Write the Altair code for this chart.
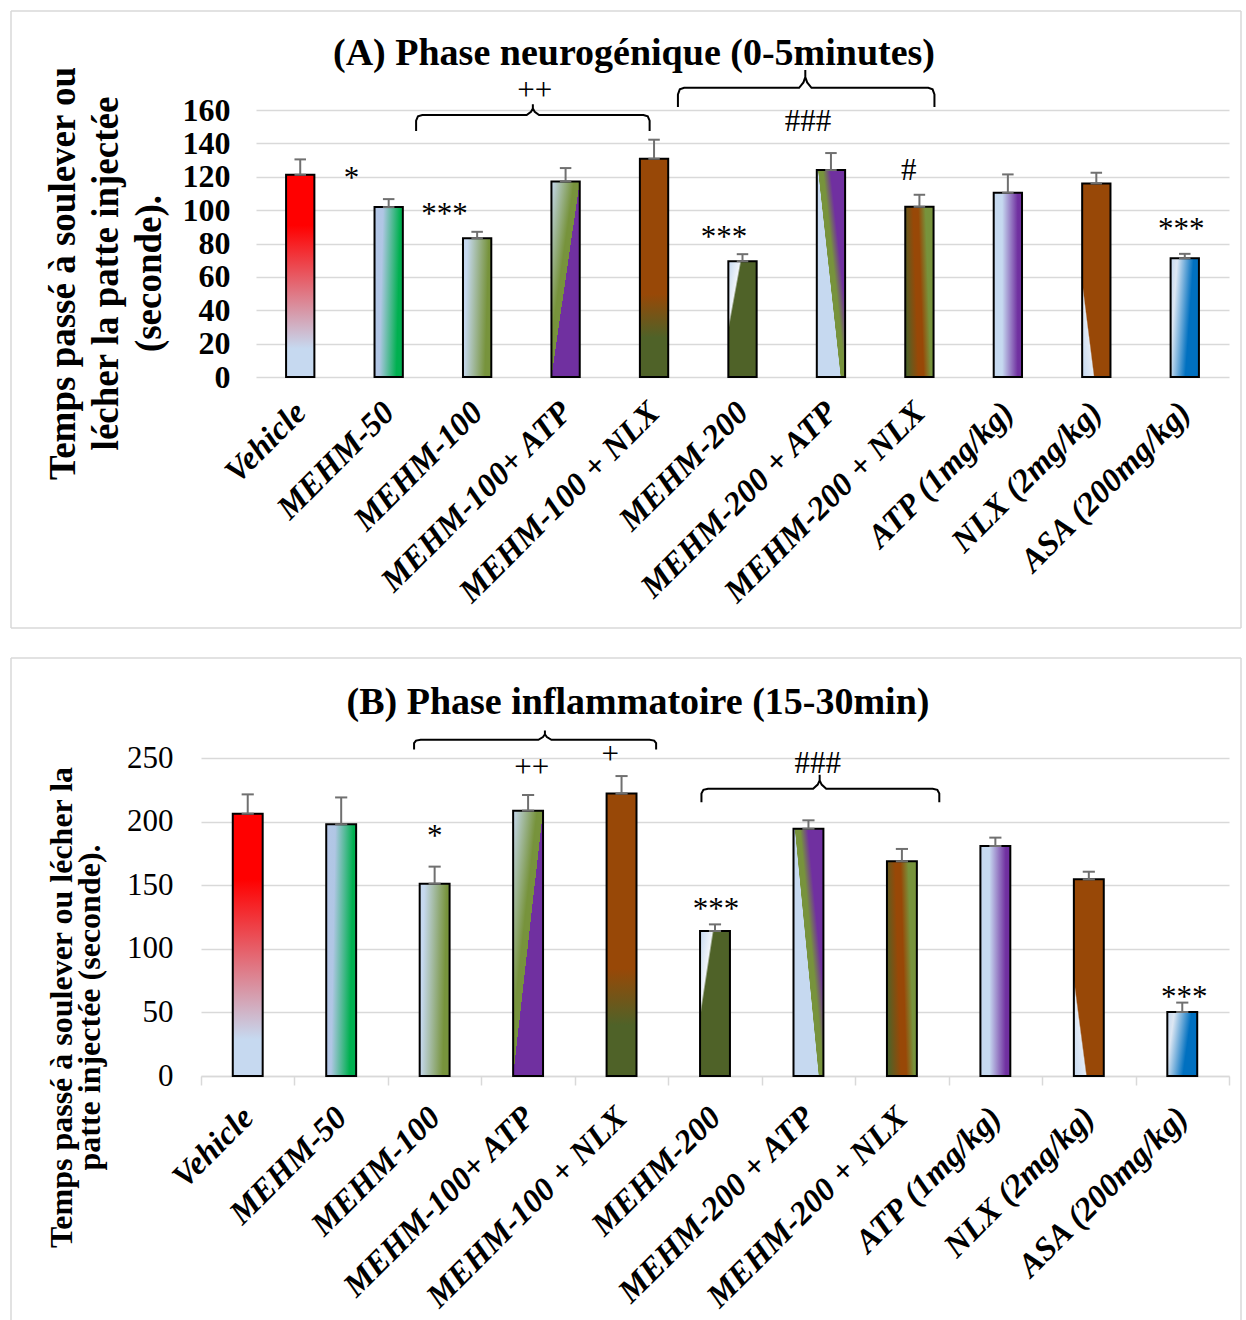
import json
import altair as alt
import pandas as pd

# ---------------------------------------------------------------- data
categories = [
    "Vehicle", "MEHM-50", "MEHM-100", "MEHM-100+ ATP", "MEHM-100 + NLX",
    "MEHM-200", "MEHM-200 + ATP", "MEHM-200 + NLX", "ATP (1mg/kg)",
    "NLX (2mg/kg)", "ASA (200mg/kg)",
]

# (A) neurogenic phase, 0-5 min: mean and SEM (s)
neuro_mean = [121.2, 101.8, 83.2, 117.2, 130.8, 69.4, 124.0, 102.0, 110.4, 116.0, 71.2]
neuro_err = [9.2, 4.8, 3.8, 8.0, 11.4, 4.2, 10.2, 7.2, 11.0, 6.4, 2.6]

# (B) inflammatory phase, 15-30 min: mean and SEM (s)
inflam_mean = [206.2, 197.9, 151.2, 208.6, 222.0, 114.0, 194.4, 168.8, 180.8, 154.6, 50.3]
inflam_err = [15.2, 21.1, 13.4, 12.3, 13.8, 5.2, 6.6, 9.7, 6.6, 6.0, 7.4]

# significance marks: symbol, x (category index units), y (data units)
neuro_marks = ["*", "***", "***", "#", "***", "###", "++"]
neuro_mark_x = [0.58, 1.63, 4.79, 6.88, 9.96, 5.74, 2.65]
neuro_mark_y = [118.8, 97.0, 83.0, 123.3, 88.0, 152.8, 171.3]

inflam_marks = ["*", "++", "+", "***", "###", "***"]
inflam_mark_x = [2.0, 3.04, 3.88, 5.01, 6.1, 10.02]
inflam_mark_y = [187.8, 242.3, 252.4, 130.3, 245.5, 61.0]

# curly braces grouping treatments: start, end, tip position, line level, foot level, tip level
neuro_brace_start = [1.31, 4.27]
neuro_brace_end = [3.95, 7.17]
neuro_brace_tipx = [2.63, 5.71]
neuro_brace_level = [157.0, 173.3]
neuro_brace_foot = [147.4, 161.8]
neuro_brace_tip = [163.5, 184.0]

inflam_brace_start = [1.78, 4.855]
inflam_brace_end = [4.37, 7.40]
inflam_brace_tipx = [3.18, 6.12]
inflam_brace_level = [264.3, 225.8]
inflam_brace_foot = [256.7, 215.3]
inflam_brace_tip = [271.6, 236.8]

# ---------------------------------------------------------------- styling
SERIF = "Liberation Serif"
GRID = "#D9D9D9"
LB = "#C6D9F0"
RED, GREEN, OLIVE, PURPLE = "#FF0000", "#00B050", "#77933C", "#7030A0"
BROWN, DKOLIVE, BLUE = "#984807", "#4F6228", "#0070C0"


def lin(stops, x1=0, y1=0, x2=1, y2=0):
    return {"gradient": "linear", "x1": x1, "y1": y1, "x2": x2, "y2": y2,
            "stops": [{"offset": o, "color": c} for o, c in stops]}


FILLS = [
    lin([(0, RED), (0.25, RED), (0.86, LB), (1, LB)], 0, 0, 0, 1),
    lin([(0, "#B4C7E7"), (0.3, "#B0C6E4"), (0.9, GREEN), (1, GREEN)], 0, 0, 1, 0.15),
    lin([(0, LB), (0.15, LB), (0.9, OLIVE), (1, OLIVE)], 0, 0, 1, 0.15),
    lin([(0, LB), (0.4, OLIVE), (0.5, OLIVE), (0.5, PURPLE), (1, PURPLE)], 0, 0, 1, 1),
    lin([(0, BROWN), (0.62, BROWN), (0.82, DKOLIVE), (1, DKOLIVE)], 0, 0, 0, 1),
    lin([(0, LB), (0.26, "#F0F4FA"), (0.3, DKOLIVE), (1, DKOLIVE)], 0, 0, 1, 0.75),
    lin([(0, LB), (0.51, LB), (0.52, OLIVE), (0.62, OLIVE), (0.78, PURPLE), (1, PURPLE)], 0, 1, 1, 0.2),
    lin([(0, DKOLIVE), (0.38, BROWN), (0.55, BROWN), (0.8, OLIVE), (1, OLIVE)], 0, 0.6, 1, 0.4),
    lin([(0, LB), (0.3, LB), (0.85, PURPLE), (1, PURPLE)]),
    lin([(0, LB), (0.44, "#E2EAF5"), (0.49, BROWN), (1, BROWN)], 0, 1, 0.52, 0.55),
    lin([(0, LB), (0.22, "#DDE7F3"), (0.75, BLUE), (1, BLUE)], 0, 0, 1, 0.3),
]

NAMES_JS = json.dumps(categories)


def brace_frame(starts, ends, tipxs, levels, feet, tips, cx=0.07):
    rows = []
    for b, (s, e, p, lv, ft, tp) in enumerate(zip(starts, ends, tipxs, levels, feet, tips)):
        dy = lv - ft
        up = tp - lv
        pts = [
            (s, ft), (s, lv - 0.35 * dy), (s + 0.3 * cx, lv - 0.08 * dy), (s + cx, lv),
            (p - cx, lv), (p - 0.3 * cx, lv + 0.3 * up), (p, lv + 0.6 * up), (p, tp),
            (p, lv + 0.6 * up), (p + 0.3 * cx, lv + 0.3 * up), (p + cx, lv),
            (e - cx, lv), (e - 0.3 * cx, lv - 0.08 * dy), (e, lv - 0.35 * dy), (e, ft),
        ]
        for k, (x, y) in enumerate(pts):
            rows.append({"bid": b, "seq": k, "bx": x, "by": y})
    return pd.DataFrame(rows)


def panel(means, errs, ymax, ystep, width, height, xrange, yoffset, title, title_xy,
          ytitle, ytitle_kw, ylabel_kw, xaxis_kw, marks, mark_x, mark_y, braces, frame,
          frame_bottom=True):
    df = pd.DataFrame({"idx": list(range(len(categories))), "name": categories,
                       "mean": means, "err": errs})
    xscale = alt.Scale(domain=[-0.5, len(categories) - 0.5], range=xrange, nice=False, zero=False)
    yscale = alt.Scale(domain=[0, ymax], nice=False)

    xaxis = alt.Axis(
        title="", grid=False, labelAngle=315, labelAlign="right", labelBaseline="middle",
        labelFont=SERIF, labelFontSize=33, labelFontStyle="italic", labelFontWeight="bold",
        labelColor="black", labelOverlap=False, labelFlush=False, labelBound=False,
        labelLimit=500, **xaxis_kw,
    )
    yaxis = alt.Axis(
        values=list(range(0, ymax + 1, ystep)), grid=True, gridColor=GRID, gridWidth=1.5,
        domain=False, ticks=False, tickSize=0, labelFont=SERIF, labelColor="black",
        offset=yoffset,
        title=ytitle, titleFont=SERIF, titleFontWeight="bold", titleColor="black",
        titleAngle=270, titleAlign="center", titleBaseline="bottom",
        **ylabel_kw, **ytitle_kw,
    )

    def X(f):
        return alt.X(f, scale=xscale, axis=xaxis)

    def Y(f):
        return alt.Y(f, scale=yscale, axis=yaxis)

    base = alt.Chart(df).transform_calculate(
        x0="datum.idx - 0.16", x1="datum.idx + 0.16", zero="0",
        top="datum.mean + datum.err", c0="datum.idx - 0.065", c1="datum.idx + 0.065",
    )

    layers = []
    for i, fill in enumerate(FILLS):
        layers.append(
            base.transform_filter(f"datum.idx == {i}")
            .mark_rect(fill=fill, stroke="black", strokeWidth=2)
            .encode(x=X("x0:Q"), x2="x1:Q", y=Y("mean:Q"), y2="zero:Q")
        )

    ERR = "#707070"
    layers.append(base.mark_rule(color=ERR, strokeWidth=2)
                  .encode(x=X("idx:Q"), y=Y("mean:Q"), y2="top:Q"))
    layers.append(base.mark_rule(color=ERR, strokeWidth=2)
                  .encode(x=X("c0:Q"), x2="c1:Q", y=Y("top:Q")))
    layers.append(base.mark_rule(color=ERR, strokeWidth=2)
                  .encode(x=X("c0:Q"), x2="c1:Q", y=Y("mean:Q")))

    mk = pd.DataFrame({"lab": marks, "ax": mark_x, "ay": mark_y})
    layers.append(alt.Chart(mk).mark_text(font=SERIF, fontSize=31, color="black",
                                          baseline="middle", align="center")
                  .encode(x=X("ax:Q"), y=Y("ay:Q"), text="lab:N"))

    layers.append(alt.Chart(braces).mark_line(color="black", strokeWidth=2)
                  .encode(x=X("bx:Q"), y=Y("by:Q"), detail="bid:N", order="seq:Q"))

    one = pd.DataFrame({"k": [0]})
    layers.append(alt.Chart(one).mark_text(text=title, font=SERIF, fontSize=38,
                                           fontWeight="bold", color="black",
                                           baseline="middle", align="center")
                  .encode(x=alt.value(title_xy[0]), y=alt.value(title_xy[1])))

    # light grey frame around the panel
    fx0, fx1, fy0, fy1 = frame
    edge = alt.Chart(one).mark_rule(color=GRID, strokeWidth=1.5)
    layers.append(edge.encode(x=alt.value(fx0), x2=alt.value(fx1), y=alt.value(fy0)))
    layers.append(edge.encode(x=alt.value(fx0), y=alt.value(fy0), y2=alt.value(fy1)))
    layers.append(edge.encode(x=alt.value(fx1), y=alt.value(fy0), y2=alt.value(fy1)))
    if frame_bottom:
        layers.append(edge.encode(x=alt.value(fx0), x2=alt.value(fx1), y=alt.value(fy1)))

    return alt.layer(*layers).properties(width=width, height=height)


# both panels share one left origin; panel A's plot starts 55 px further right
neuro = panel(
    neuro_mean, neuro_err, 160, 20, 1028, 267, [55, 1028], -55,
    "(A) Phase neurogénique (0-5minutes)", (433, -56),
    ["Temps passé à soulever ou", "lécher la patte injectée", "(seconde)."],
    dict(titleFontSize=37, titleLineHeight=43, titlePadding=14, titleY=163),
    dict(labelFontSize=32, labelFontWeight="bold", labelPadding=26),
    dict(values=list(range(11)), labelExpr=f"{NAMES_JS}[datum.value]",
         domain=False, ticks=False, labelPadding=30),
    neuro_marks, neuro_mark_x, neuro_mark_y,
    brace_frame(neuro_brace_start, neuro_brace_end, neuro_brace_tipx,
                neuro_brace_level, neuro_brace_foot, neuro_brace_tip),
    (-190, 1040, -99, 518),
)

inflam = panel(
    inflam_mean, inflam_err, 250, 50, 1028, 318, [0, 1028], 0,
    "(B) Phase inflammatoire (15-30min)", (437, -55),
    ["Temps passé à soulever ou lécher la", "patte injectée (seconde)."],
    dict(titleFontSize=32, titleLineHeight=28, titlePadding=20, titleY=249),
    dict(labelFontSize=31, labelPadding=28),
    dict(values=[v / 2 for v in range(-1, 22)],
         labelExpr=f"datum.value % 1 === 0 ? {NAMES_JS}[datum.value] : ''",
         domain=True, domainColor=GRID, domainWidth=1.5,
         ticks=True, tickSize=9, tickColor=GRID, tickWidth=1.5,
         tickOpacity={"condition": {"test": "datum.value % 1 !== 0", "value": 1}, "value": 0},
         labelPadding=27),
    inflam_marks, inflam_mark_x, inflam_mark_y,
    brace_frame(inflam_brace_start, inflam_brace_end, inflam_brace_tipx,
                inflam_brace_level, inflam_brace_foot, inflam_brace_tip),
    (-190, 1040, -100, 562),
    frame_bottom=False,
)

chart = (
    alt.vconcat(neuro, inflam, spacing=28)
    .properties(padding={"left": 10, "top": 10, "right": 0, "bottom": 0}, background="white")
    .configure_view(stroke=None)
)

chart.save("out.html", embed_options={"renderer": "svg", "actions": False})
